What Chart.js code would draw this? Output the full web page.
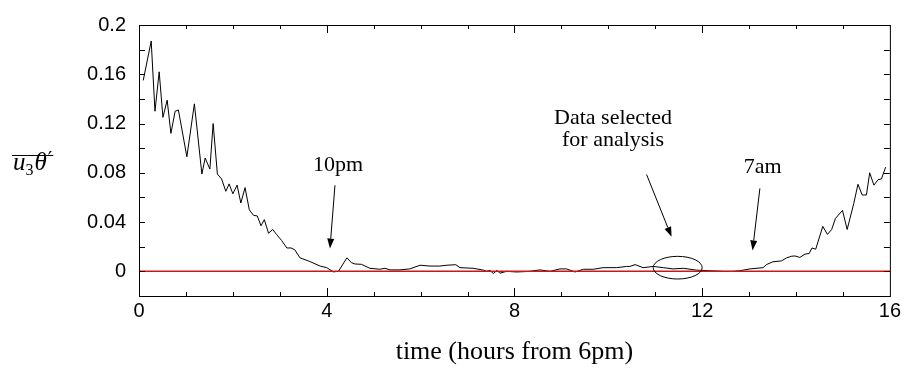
<!DOCTYPE html>
<html lang="en">
<head>
    <meta charset="UTF-8">
    <title>Heat flux through the night</title>
    <script src="https://cdn.jsdelivr.net/npm/chart.js@4.4.0/dist/chart.umd.min.js"></script>
    <style>
        body { margin: 0; background: #fff; }
        .chart-container { position: relative; width: 904px; height: 368px; }
    </style>
</head>
<body>
    <div class="chart-container">
        <canvas id="fluxChart"></canvas>
    </div>

    <script>
        const hours = [0.09, 0.26, 0.34, 0.43, 0.51, 0.60, 0.68, 0.77, 0.84, 1.02,
            1.18, 1.34, 1.41, 1.51, 1.58, 1.67, 1.76, 1.85, 1.92, 2.00,
            2.09, 2.17, 2.26, 2.35, 2.44, 2.52, 2.60, 2.67, 2.76, 2.85,
            2.93, 3.04, 3.15, 3.24, 3.32, 3.43, 3.64, 3.86, 4.00, 4.14,
            4.25, 4.43, 4.53, 4.60, 4.74, 4.92, 5.13, 5.24, 5.35, 5.56,
            5.77, 5.99, 6.20, 6.41, 6.56, 6.75, 6.84, 7.12, 7.34, 7.41,
            7.48, 7.55, 7.63, 7.69, 7.83, 8.05, 8.33, 8.54, 8.76, 8.97,
            9.11, 9.29, 9.47, 9.68, 9.89, 10.18, 10.39, 10.46, 10.57, 10.74,
            10.96, 11.17, 11.38, 11.60, 11.88, 12.16, 12.45, 12.66, 12.80, 13.02,
            13.30, 13.37, 13.51, 13.69, 13.80, 13.91, 13.98, 14.08, 14.19, 14.28,
            14.34, 14.42, 14.57, 14.67, 14.76, 14.84, 14.99, 15.09, 15.23, 15.32,
            15.41, 15.50, 15.57, 15.66, 15.75, 15.82, 15.91];
        const flux = [0.155, 0.187, 0.130, 0.162, 0.125, 0.139, 0.112, 0.130, 0.131, 0.093,
            0.136, 0.079, 0.092, 0.083, 0.120, 0.079, 0.075, 0.065, 0.071, 0.063,
            0.070, 0.0555, 0.068, 0.050, 0.0455, 0.045, 0.037, 0.042, 0.031, 0.034,
            0.030, 0.025, 0.019, 0.019, 0.0175, 0.011, 0.008, 0.0043, 0.003, -0.0004,
            0, 0.011, 0.007, 0.006, 0.0057, 0.0025, 0.0017, 0.0025, 0.0012, 0.0012,
            0.002, 0.005, 0.0043, 0.0043, 0.005, 0.0054, 0.003, 0.0025, 0.001, 0,
            0.0008, -0.0017, 0.0008, -0.0015, 0, -0.0005, 0, 0.0012, 0, 0.002,
            0.002, -0.0005, 0.0017, 0.0017, 0.003, 0.003, 0.004, 0.004, 0.0055, 0.003,
            0.004, 0.003, 0.002, 0.0025, 0.001, 0.0005, 0, 0, 0.0005, 0.002,
            0.003, 0.0055, 0.0078, 0.0085, 0.011, 0.0123, 0.0125, 0.0113, 0.014, 0.0145,
            0.019, 0.018, 0.0365, 0.030, 0.034, 0.043, 0.0495, 0.034, 0.055, 0.0707,
            0.062, 0.062, 0.080, 0.070, 0.0745, 0.075, 0.0846];

        const xTickLabels = [0, 4, 8, 12, 16];
        const yTickLabels = ['0', '0.04', '0.08', '0.12', '0.16', '0.2'];

        // annotation texts / arrows, in data coordinates (hours, flux)
        const notes = [
            { lines: ['10pm'], at: [4.24, 0.0863], from: [4.176, 0.0699], to: [4.069, 0.0185] },
            { lines: ['Data selected', 'for analysis'], at: [10.10, 0.1245], from: [10.816, 0.0786], to: [11.348, 0.0280] },
            { lines: ['7am'], at: [13.29, 0.0845], from: [13.23, 0.0673], to: [13.074, 0.0170] }
        ];
        const selection = { cx: 11.478, cy: 0.003, rx: 0.522, ry: 0.0092 };

        const serif = "'Liberation Serif', 'DejaVu Serif', serif";
        const sans = "'Liberation Sans', Arial, sans-serif";

        function drawArrow(ctx, x1, y1, x2, y2) {
            const a = Math.atan2(y2 - y1, x2 - x1);
            const len = 10, half = 3.5;
            ctx.beginPath();
            ctx.moveTo(x1, y1);
            ctx.lineTo(x2 - len * Math.cos(a), y2 - len * Math.sin(a));
            ctx.stroke();
            ctx.beginPath();
            ctx.moveTo(x2, y2);
            ctx.lineTo(x2 - len * Math.cos(a) + half * Math.sin(a), y2 - len * Math.sin(a) - half * Math.cos(a));
            ctx.lineTo(x2 - len * Math.cos(a) - half * Math.sin(a), y2 - len * Math.sin(a) + half * Math.cos(a));
            ctx.closePath();
            ctx.fill();
        }

        const framePlugin = {
            id: 'frame',
            afterDraw(chart) {
                const { ctx, chartArea: area, scales: { x, y } } = chart;
                ctx.save();
                ctx.strokeStyle = '#000';
                ctx.fillStyle = '#000';
                ctx.lineWidth = 1;

                // box
                ctx.strokeRect(area.left + 0.5, area.top + 0.5, area.right - area.left, area.bottom - area.top);

                // inward ticks, every hour and every 0.02
                ctx.beginPath();
                for (let h = 1; h < 16; h++) {
                    const px = Math.round(x.getPixelForValue(h)) + 0.5;
                    const len = h % 4 === 0 ? 8 : 4;
                    ctx.moveTo(px, area.bottom); ctx.lineTo(px, area.bottom - len);
                    ctx.moveTo(px, area.top); ctx.lineTo(px, area.top + len);
                }
                for (let k = 0; k < 10; k++) {
                    const py = Math.round(y.getPixelForValue(k * 0.02)) + 0.5;
                    ctx.moveTo(area.left, py); ctx.lineTo(area.left + 6, py);
                    ctx.moveTo(area.right, py); ctx.lineTo(area.right - 6, py);
                }
                ctx.stroke();

                // annotations
                ctx.font = '22px ' + serif;
                ctx.textAlign = 'center';
                ctx.textBaseline = 'middle';
                notes.forEach(n => {
                    const tx = x.getPixelForValue(n.at[0]);
                    const ty = y.getPixelForValue(n.at[1]);
                    n.lines.forEach((line, i) => ctx.fillText(line, tx, ty + i * 22));
                    drawArrow(ctx,
                        x.getPixelForValue(n.from[0]), y.getPixelForValue(n.from[1]),
                        x.getPixelForValue(n.to[0]), y.getPixelForValue(n.to[1]));
                });

                const ex = x.getPixelForValue(selection.cx);
                const ey = y.getPixelForValue(selection.cy);
                ctx.beginPath();
                ctx.ellipse(ex, ey,
                    x.getPixelForValue(selection.cx + selection.rx) - ex,
                    ey - y.getPixelForValue(selection.cy + selection.ry),
                    0, 0, Math.PI * 2);
                ctx.stroke();

                // y axis label: overline(u_3 theta')
                ctx.textAlign = 'left';
                ctx.textBaseline = 'alphabetic';
                let lx = 13;
                const base = 170;
                ctx.font = 'italic 25px ' + serif;
                ctx.fillText('u', lx, base);
                lx += ctx.measureText('u').width;
                ctx.font = '16px ' + serif;
                ctx.fillText('3', lx, base + 5);
                lx += ctx.measureText('3').width + 1;
                ctx.font = 'italic 25px ' + serif;
                ctx.fillText('θ', lx, base);
                lx += ctx.measureText('θ').width + 1;
                ctx.font = "20px 'DejaVu Serif', serif";
                ctx.fillText('′', lx, base - 4);
                lx += ctx.measureText('′').width;
                ctx.beginPath();
                ctx.moveTo(12, 155.5);
                ctx.lineTo(lx + 1, 155.5);
                ctx.stroke();

                ctx.restore();
            }
        };

        const ctx = document.getElementById('fluxChart').getContext('2d');

        new Chart(ctx, {
            type: 'line',
            data: {
                datasets: [
                    {
                        label: 'zero',
                        data: [{ x: 0, y: 0 }, { x: 16, y: 0 }],
                        borderColor: '#ff0000',
                        borderWidth: 1.5,
                        pointRadius: 0
                    },
                    {
                        label: 'flux',
                        data: hours.map((h, i) => ({ x: h, y: flux[i] })),
                        borderColor: '#000',
                        borderWidth: 1,
                        pointRadius: 0,
                        tension: 0
                    }
                ]
            },
            options: {
                responsive: true,
                maintainAspectRatio: false,
                animation: false,
                events: [],
                layout: {
                    padding: { top: 16, right: 14, left: 0, bottom: 0 }
                },
                plugins: {
                    legend: { display: false },
                    tooltip: { enabled: false }
                },
                scales: {
                    x: {
                        type: 'linear',
                        min: 0,
                        max: 16,
                        grid: { display: false, drawTicks: false, tickLength: 0 },
                        border: { display: false },
                        ticks: {
                            stepSize: 1,
                            autoSkip: false,
                            maxRotation: 0,
                            padding: 3,
                            color: '#000',
                            font: { family: sans, size: 20 },
                            callback: (v) => xTickLabels.includes(v) ? String(v) : ''
                        },
                        title: {
                            display: true,
                            text: 'time (hours from 6pm)',
                            color: '#000',
                            font: { family: serif, size: 26 },
                            padding: { top: 0, bottom: 0 }
                        },
                        afterFit: (scale) => { scale.height = 72; }
                    },
                    y: {
                        min: -0.02,
                        max: 0.2,
                        grid: { display: false, drawTicks: false, tickLength: 0 },
                        border: { display: false },
                        ticks: {
                            stepSize: 0.02,
                            autoSkip: false,
                            padding: 13,
                            color: '#000',
                            font: { family: sans, size: 20 },
                            callback: (v) => {
                                const k = Math.round(v / 0.02);
                                return (k >= 0 && k % 2 === 0) ? yTickLabels[k / 2] : '';
                            }
                        },
                        afterFit: (scale) => { scale.width = 139; }
                    }
                }
            },
            plugins: [framePlugin]
        });
    </script>
</body>
</html>
